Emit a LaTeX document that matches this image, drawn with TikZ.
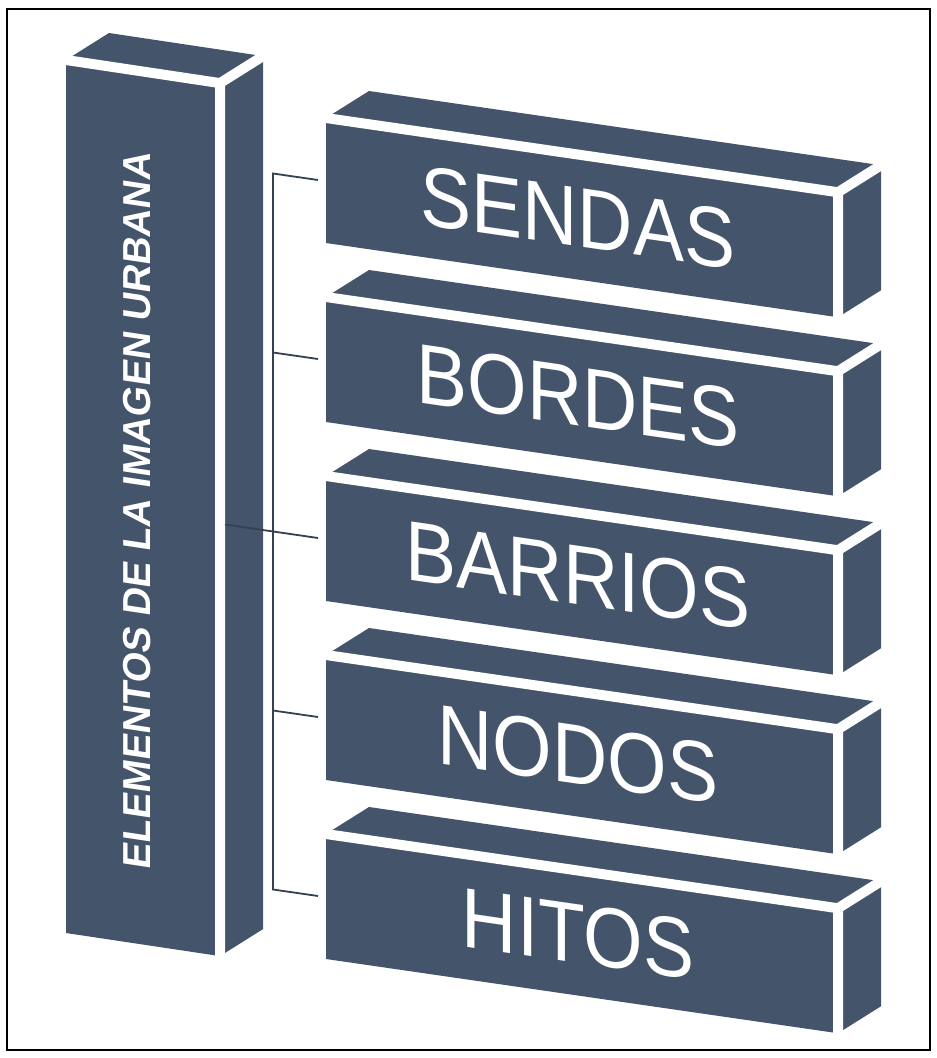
\documentclass[tikz,border=0pt]{standalone}
\usepackage{fontspec}
\setmainfont{Liberation Sans}
\usetikzlibrary{calc}
\definecolor{slate}{HTML}{44546A}
\definecolor{linec}{HTML}{344152}
\newcommand{\isobox}[6]{%
  \coordinate (#1A) at (#2,#3);
  \coordinate (#1B) at ({#2+#4},{#3+#4*#6});
  \coordinate (#1C) at ({#2+#4},{#3+#4*#6+#5});
  \coordinate (#1D) at (#2,{#3+#5});
  \fill[slate] (#1A) -- ($(#1A)+(43,-27)$) -- ($(#1B)+(43,-27)$) -- ($(#1C)+(43,-27)$) -- (#1C) -- (#1D) -- cycle;
  \draw[gapline] (#1A) -- (#1B) -- (#1C) (#1B) -- ($(#1B)+(43,-27)$);
}
\begin{document}
\begin{tikzpicture}[x=1pt,y=-1pt,
  gapline/.style={draw=white, line width=10pt, line cap=round, line join=round},
  lbl/.style={text=white, inner sep=0pt, font=\fontsize{85}{85}\selectfont, yslant=-0.145, xscale=0.9},
  coltxt/.style={text=white, inner sep=0pt, font=\bfseries\fontsize{39}{39}\selectfont, yslant=-0.15, rotate=90},
  conn/.style={draw=linec, line width=1.8pt}]
\useasboundingbox (0,0) rectangle (937,1058);
\fill[white] (0,0) rectangle (937,1058);
\draw[black, line width=1.5pt] (7,9) rectangle (930,1050);

\isobox{col}{66}{60}{154}{873}{0.15}
\isobox{ba}{326}{118}{512}{125}{0.145}
\isobox{bb}{326}{297}{512}{125}{0.145}
\isobox{bc}{326}{476}{512}{125}{0.145}
\isobox{bd}{326}{655}{512}{125}{0.145}
\isobox{be}{326}{834}{512}{125}{0.145}

\node[coltxt] (coltext) at (137,510) {ELEMENTOS DE LA IMAGEN URBANA};
\node[lbl] (ta) at ($($(baA)!0.5!(baC)$)+(-4,0)$) {SENDAS};
\node[lbl] (tb) at ($($(bbA)!0.5!(bbC)$)+(-4,0)$) {BORDES};
\node[lbl] (tc) at ($($(bcA)!0.5!(bcC)$)+(-4,0)$) {BARRIOS};
\node[lbl] (td) at ($($(bdA)!0.5!(bdC)$)+(-4,0)$) {NODOS};
\node[lbl] (te) at ($($(beA)!0.5!(beC)$)+(-4,0)$) {HITOS};

\coordinate (wa) at (318,180);
\coordinate (wb) at (318,359);
\coordinate (wc) at (318,538);
\coordinate (wd) at (318,717);
\coordinate (we) at (318,896);
\coordinate (ja) at (273,173.5);
\coordinate (jb) at (273,352.5);
\coordinate (jd) at (273,710.5);
\coordinate (je) at (273,889.5);
\coordinate (cs) at (225,524.5);

\draw[conn] (wa) -- (ja) -- (je) -- (we);
\draw[conn] (jb) -- (wb);
\draw[conn] (jd) -- (wd);
\draw[conn] (cs) -- (wc);
\end{tikzpicture}
\end{document}
